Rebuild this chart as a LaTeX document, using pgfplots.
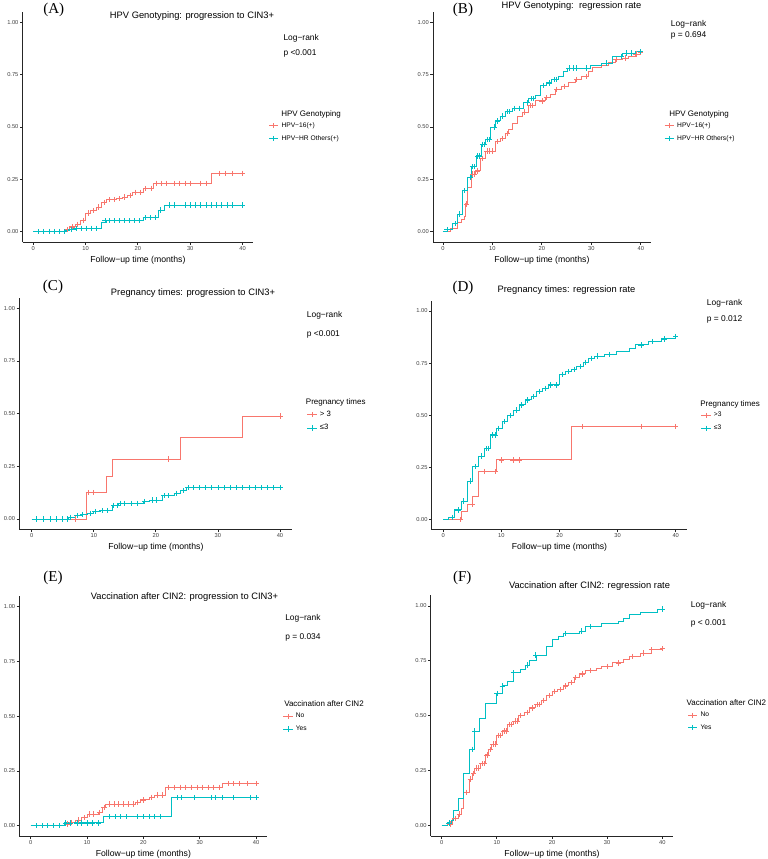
\documentclass[border=0pt]{standalone}
\usepackage{pgfplots}
\pgfplotsset{compat=1.18}
\usepackage{fontspec}
\setmainfont{Liberation Sans}
\newfontfamily\serifl{Liberation Serif}
\definecolor{kmr}{HTML}{F8766D}
\definecolor{kmc}{HTML}{00BFC4}
\def\pu{0.75pt}
\pgfplotsset{
  km/.style={
    scale only axis, anchor=south west,
    xmin=-2, xmax=42, ymin=-0.05, ymax=1.05,
    axis lines=left,
    axis line style={-, line width=0.75pt, black!85},
    xtick={0,10,20,30,40}, xticklabels={0,10,20,30,40},
    ytick={0,0.25,0.5,0.75,1}, yticklabels={0.00,0.25,0.50,0.75,1.00},
    tick align=outside, major tick length=2pt,
    tick style={black!85, line width=0.6pt},
    tick label style={font=\fontsize{4.3}{5}\selectfont, text=black!75, inner sep=1pt},
    xlabel={Follow−up time (months)},
    xlabel style={font=\fontsize{6.5}{7}\selectfont, at={(axis description cs:0.5,0)}, anchor=mid, yshift=-12.5pt},
    legend style={draw=none, fill=none, inner sep=0pt, font=\fontsize{5}{6}\selectfont, cells={anchor=west}, row sep=0.5pt, anchor=west},
    legend image code/.code={\draw[mark repeat=2,mark phase=2,#1] plot coordinates {(0pt,0pt) (3.5pt,0pt) (7pt,0pt)};},
  },
  curve/.style={const plot, line width=0.7pt, mark=none, forget plot},
  cens/.style={only marks, mark=+, mark size=2pt, line width=0.5pt, forget plot},
  keyr/.style={kmr, line width=0.7pt, mark=+, mark size=2pt},
  keyc/.style={kmc, line width=0.7pt, mark=+, mark size=2pt},
}
\begin{document}
\begin{tikzpicture}
\path[use as bounding box] (0,0) rectangle (767*\pu,-859*\pu);
% ---------- A ----------
\begin{axis}[km, at={(17.03pt,-181.5pt)}, width=172.73pt, height=172.5pt,
  legend style={at={(axis description cs:1.0664,0.4774)}}]
\addplot[curve, kmr] coordinates {(0,0)(6,0.01)(7,0.022)(8,0.035)(9,0.054)(10,0.088)(11,0.10)(12,0.117)(13,0.14)(14,0.152)(16,0.158)(17,0.165)(18,0.172)(19,0.188)(21,0.206)(23,0.231)(34,0.279)(40,0.279)};
\addplot[cens, kmr] coordinates {(6.5,0.01)(7.5,0.022)(8.5,0.035)(9.5,0.054)(10.5,0.088)(11.5,0.10)(12.5,0.117)(13.5,0.14)(14.5,0.152)(15.5,0.152)(16.5,0.158)(17.5,0.165)(18.5,0.172)(19.5,0.188)(20.5,0.188)(21.5,0.206)(22.5,0.206)(23.5,0.231)(24.5,0.231)(25.5,0.231)(27,0.231)(28,0.231)(29,0.231)(30,0.231)(32,0.231)(33,0.231)(35.5,0.279)(36.8,0.279)(38,0.279)(40,0.279)};
\addplot[curve, kmc] coordinates {(0,0)(6,0.005)(7,0.01)(8,0.015)(13,0.045)(14,0.052)(21,0.066)(24,0.103)(25,0.127)(40,0.127)};
\addplot[cens, kmc] coordinates {(1,0)(2,0)(3,0)(4,0)(5,0)(5.9,0)(7.2,0.01)(8.2,0.015)(9.2,0.015)(10.2,0.015)(11.1,0.015)(12.1,0.015)(13.7,0.052)(14.6,0.052)(15.6,0.052)(16.5,0.052)(17.5,0.052)(18.4,0.052)(19.4,0.052)(20.3,0.052)(21.4,0.066)(22.3,0.066)(23.3,0.066)(24.3,0.103)(26,0.127)(27,0.127)(29,0.127)(30,0.127)(31,0.127)(32,0.127)(33,0.127)(34,0.127)(35,0.127)(36,0.127)(37,0.127)(38,0.127)(40,0.127)};
\addlegendimage{keyr}\addlegendentry{HPV−16(+)}
\addlegendimage{keyc}\addlegendentry{HPV−HR Others(+)}
\end{axis}
% ---------- B ----------
\begin{axis}[km, at={(324.75pt,-181.5pt)}, width=163.28pt, height=172.5pt,
  legend style={at={(axis description cs:1.0611,0.4774)}}]
\addplot[curve, kmr] coordinates {(0,0)(1.6,0.013)(2.9,0.044)(3.8,0.06)(4.3,0.07)(4.6,0.132)(5,0.21)(5.8,0.275)(6.6,0.29)(7.6,0.35)(8.6,0.385)(10.6,0.43)(11.6,0.445)(12.6,0.468)(13.3,0.49)(14.1,0.515)(15,0.548)(16,0.571)(17.3,0.602)(18.7,0.625)(20.7,0.64)(21.7,0.657)(22.7,0.68)(24,0.695)(25.4,0.711)(26.7,0.727)(28,0.743)(29.4,0.767)(30.3,0.785)(32.1,0.795)(33.4,0.81)(34.8,0.822)(36.2,0.83)(37.5,0.838)(38.9,0.849)(40,0.855)};
\addplot[cens, kmr] coordinates {(4.8,0.132)(6,0.275)(6.3,0.275)(7,0.29)(7.9,0.35)(8.9,0.385)(9.3,0.385)(10,0.385)(11,0.43)(12,0.445)(13,0.468)(16.5,0.571)(17.6,0.602)(18,0.602)(20,0.625)(21,0.64)(23,0.68)(24.5,0.695)(27,0.727)(29,0.743)(35,0.822)(36.8,0.83)(39,0.849)(40,0.855)};
\addplot[curve, kmc] coordinates {(0,0)(1,0.01)(2,0.037)(3,0.084)(3.9,0.195)(5,0.259)(5.8,0.31)(6.7,0.362)(7.7,0.417)(8.7,0.44)(9.7,0.50)(10.7,0.529)(11.7,0.552)(12.7,0.573)(14,0.59)(16.3,0.616)(17.3,0.635)(18.7,0.65)(19.7,0.70)(21,0.711)(22,0.727)(23.4,0.743)(24.4,0.767)(25.1,0.782)(29.8,0.795)(32.1,0.806)(34.2,0.838)(36.2,0.854)(38.9,0.86)(40,0.86)};
\addplot[cens, kmc] coordinates {(0.8,0.01)(2.5,0.037)(3.4,0.084)(4.4,0.195)(5.5,0.259)(6,0.31)(6.3,0.31)(7,0.362)(7.4,0.362)(8,0.417)(8.4,0.417)(9,0.44)(9.4,0.44)(10.3,0.50)(11,0.529)(12,0.552)(13,0.573)(13.5,0.573)(14.5,0.59)(15.5,0.59)(17,0.616)(17.8,0.635)(18.2,0.635)(20.2,0.70)(21.5,0.711)(22.5,0.727)(23,0.727)(25.5,0.782)(26.3,0.782)(27,0.782)(29,0.782)(33,0.806)(36,0.838)(37,0.854)(38,0.854)(40,0.86)};
\addlegendimage{keyr}\addlegendentry{HPV−16(+)}
\addlegendimage{keyc}\addlegendentry{HPV−HR Others(+)}
\end{axis}
% ---------- C ----------
\begin{axis}[km, at={(14.48pt,-397.13pt)}, width=204.8pt, height=173.78pt,
  legend style={at={(axis description cs:1.0524,0.4668)}, font=\fontsize{5.8}{6.5}\selectfont}]
\addplot[curve, kmr] coordinates {(0,0)(8.9,0.125)(12,0.204)(13,0.284)(24,0.386)(34,0.489)(40,0.489)};
\addplot[cens, kmr] coordinates {(7,0)(9.1,0.125)(10,0.125)(22,0.284)(40,0.489)};
\addplot[curve, kmc] coordinates {(0,0)(6,0.008)(7,0.016)(8,0.021)(9,0.027)(10,0.035)(11,0.04)(13,0.064)(14,0.075)(18,0.083)(19,0.09)(21,0.11)(23,0.122)(24,0.135)(25,0.148)(40,0.148)};
\addplot[cens, kmc] coordinates {(0.8,0)(1.9,0)(2.95,0)(4,0)(5,0)(5.8,0)(6.3,0.008)(7.3,0.016)(8.2,0.021)(9.5,0.027)(10.2,0.035)(11.3,0.04)(12.2,0.04)(13.2,0.064)(13.8,0.064)(14.3,0.075)(15,0.075)(16,0.075)(17,0.075)(18.2,0.083)(19.5,0.09)(20,0.09)(21.3,0.11)(22,0.11)(23.3,0.122)(24.5,0.135)(25.2,0.148)(26,0.148)(27,0.148)(28,0.148)(29,0.148)(30,0.148)(31,0.148)(32,0.148)(33,0.148)(34,0.148)(35,0.148)(36,0.148)(37,0.148)(38,0.148)(39,0.148)(40,0.148)};
\addlegendimage{keyr}\addlegendentry{> 3}
\addlegendimage{keyc}\addlegendentry{≤3}
\end{axis}
% ---------- D ----------
\begin{axis}[km, at={(323.78pt,-397.28pt)}, width=191.7pt, height=171.83pt,
  legend style={at={(axis description cs:1.0524,0.4708)}}]
\addplot[curve, kmr] coordinates {(0,0)(3.1,0.036)(4.1,0.072)(5.06,0.112)(6.1,0.229)(9.07,0.285)(22,0.445)(40,0.445)};
\addplot[cens, kmr] coordinates {(3,0)(5,0.072)(7.1,0.229)(9,0.229)(10,0.285)(12,0.285)(13,0.285)(24,0.445)(34,0.445)(40,0.445)};
\addplot[curve, kmc] coordinates {(0,0)(0.9,0.008)(2,0.045)(3.1,0.088)(4.1,0.184)(5.06,0.253)(6.1,0.304)(7.06,0.34)(8.1,0.405)(9.07,0.437)(10.1,0.469)(11.1,0.497)(12.1,0.524)(13.1,0.549)(14.1,0.573)(15.1,0.589)(16.1,0.613)(17.1,0.629)(18.1,0.645)(20,0.696)(21,0.709)(22,0.72)(23,0.733)(24.2,0.754)(24.9,0.773)(26.1,0.784)(27.8,0.792)(29.8,0.808)(32.1,0.821)(33,0.837)(35.3,0.853)(37.6,0.866)(39.9,0.877)(40,0.877)};
\addplot[cens, kmc] coordinates {(1.5,0.008)(2.5,0.045)(3.5,0.088)(4.6,0.184)(5.5,0.253)(6.5,0.304)(7.4,0.34)(7.8,0.34)(8.5,0.405)(9,0.405)(9.5,0.437)(10.5,0.469)(11.5,0.497)(12.5,0.524)(13.5,0.549)(14.5,0.573)(15.5,0.589)(16.5,0.613)(17.5,0.629)(18.5,0.645)(19.5,0.645)(20.5,0.696)(21.5,0.709)(22.5,0.72)(23.5,0.733)(24.5,0.754)(25.5,0.773)(26.5,0.784)(28.5,0.792)(34,0.837)(36,0.853)(38,0.866)(40,0.877)};
\addlegendimage{keyr}\addlegendentry{>3}
\addlegendimage{keyc}\addlegendentry{≤3}
\end{axis}
% ---------- E ----------
\begin{axis}[km, at={(14.55pt,-627.53pt)}, width=185.93pt, height=180.75pt,
  legend style={at={(axis description cs:1.0621,0.4724)}}]
\addplot[curve, kmr] coordinates {(0,0)(6,0.008)(6.7,0.015)(8,0.026)(9,0.038)(10,0.053)(12,0.06)(12.7,0.084)(13.3,0.099)(18.6,0.107)(19.5,0.118)(21,0.13)(22,0.14)(24,0.176)(34,0.193)(40,0.193)};
\addplot[cens, kmr] coordinates {(6.5,0.008)(7.3,0.015)(8.5,0.026)(9.5,0.038)(10.5,0.053)(11.2,0.053)(12.2,0.06)(13,0.084)(14,0.099)(14.8,0.099)(15.5,0.099)(16.5,0.099)(17.3,0.099)(18.2,0.099)(19,0.107)(20,0.118)(21.5,0.13)(22.5,0.14)(23.3,0.14)(24.5,0.176)(25.5,0.176)(26.5,0.176)(27.5,0.176)(28.5,0.176)(29.5,0.176)(30.5,0.176)(31.5,0.176)(32.5,0.176)(33.5,0.176)(35,0.193)(36,0.193)(37,0.193)(38.5,0.193)(40,0.193)};
\addplot[curve, kmc] coordinates {(0,0)(6,0.013)(13,0.041)(25,0.128)(40,0.128)};
\addplot[cens, kmc] coordinates {(1,0)(2,0)(3,0)(4,0)(5,0)(6.2,0.013)(7.1,0.013)(8.2,0.013)(9,0.013)(10,0.013)(11,0.013)(12,0.013)(14,0.041)(15,0.041)(16,0.041)(17,0.041)(19,0.041)(20,0.041)(21,0.041)(22,0.041)(23,0.041)(26,0.128)(26.8,0.128)(29,0.128)(32,0.128)(32.8,0.128)(34,0.128)(36,0.128)(38.9,0.128)(40,0.128)};
\addlegendimage{keyr}\addlegendentry{No}
\addlegendimage{keyc}\addlegendentry{Yes}
\end{axis}
% ---------- F ----------
\begin{axis}[km, at={(323.03pt,-627pt)}, width=181.95pt, height=180.75pt,
  legend style={at={(axis description cs:1.0577,0.4751)}}]
\addplot[curve, kmr] coordinates {(0,0)(1,0.005)(2,0.03)(3,0.05)(3.5,0.075)(4,0.15)(5,0.21)(5.5,0.235)(6,0.26)(7,0.28)(8,0.32)(8.5,0.345)(9,0.37)(10,0.41)(11,0.43)(12,0.46)(13,0.475)(14,0.50)(15,0.515)(16,0.535)(17,0.55)(18,0.57)(19,0.59)(20,0.61)(21,0.62)(22,0.635)(23,0.65)(24,0.675)(25,0.69)(26,0.705)(28,0.715)(29,0.725)(31,0.74)(33,0.755)(34,0.77)(36,0.785)(38,0.80)(40,0.805)};
\addplot[cens, kmr] coordinates {(1.5,0.005)(2.5,0.03)(3.2,0.05)(4.5,0.15)(5.2,0.21)(5.8,0.235)(6.3,0.26)(6.7,0.26)(7.3,0.28)(7.7,0.28)(8.2,0.32)(8.8,0.345)(9.3,0.37)(9.7,0.37)(10.3,0.41)(10.7,0.41)(11.3,0.43)(11.7,0.43)(12.3,0.46)(12.7,0.46)(13.3,0.475)(13.7,0.475)(14.3,0.50)(15.5,0.515)(16.5,0.535)(17.3,0.55)(17.7,0.55)(18.5,0.57)(19.5,0.59)(20.5,0.61)(21.5,0.62)(22.5,0.635)(23.5,0.65)(24.3,0.675)(25.5,0.69)(27,0.705)(30,0.725)(32,0.74)(34.5,0.77)(36.5,0.785)(38,0.80)(40,0.805)};
\addplot[curve, kmc] coordinates {(0,0)(1,0.01)(1.8,0.023)(2.1,0.065)(3,0.122)(3.9,0.236)(5,0.346)(5.9,0.429)(6.9,0.487)(7.85,0.553)(10,0.60)(11,0.635)(12,0.655)(13,0.695)(14.2,0.71)(15.1,0.73)(16,0.753)(17.1,0.776)(19,0.814)(20.1,0.845)(21.1,0.86)(22,0.873)(25,0.885)(26,0.905)(29,0.918)(32,0.93)(32.9,0.944)(34,0.96)(36.1,0.972)(39.2,0.986)(40,0.986)};
\addplot[cens, kmc] coordinates {(1.3,0.01)(5.5,0.346)(6,0.429)(10,0.60)(11,0.635)(13,0.695)(15.5,0.73)(17,0.776)(22.5,0.873)(25.3,0.885)(27,0.905)(40,0.986)};
\addlegendimage{keyr}\addlegendentry{No}
\addlegendimage{keyc}\addlegendentry{Yes}
\end{axis}
% ---------- texts ----------
\begin{scope}[every node/.style={inner sep=0pt}]
\foreach \t/\x/\y in {(A)/53.8/10,(B)/463/10,(C)/53/287,(D)/463/288,(E)/53/578,(F)/462.3/578}
  \node[anchor=mid, font=\serifl\fontsize{11.3}{12}\selectfont] at (\x*\pu,-\y*\pu) {\t};
\tikzset{ttl/.style={anchor=mid, font=\fontsize{7}{8}\selectfont}}
\node[ttl] at (192*\pu,-15.3*\pu) {HPV Genotyping: progression to CIN3+};
\node[ttl] at (571.5*\pu,-5*\pu) {HPV Genotyping:\ \ regression rate};
\node[ttl] at (193*\pu,-292*\pu) {Pregnancy times: progression to CIN3+};
\node[ttl] at (566.5*\pu,-289*\pu) {Pregnancy times: regression rate};
\node[ttl] at (184.5*\pu,-596*\pu) {Vaccination after CIN2: progression to CIN3+};
\node[ttl] at (589.5*\pu,-585*\pu) {Vaccination after CIN2: regression rate};
\tikzset{lr/.style={anchor=mid west, font=\fontsize{6.3}{7}\selectfont}}
\node[lr] at (283.3*\pu,-36.7*\pu) {Log−rank};
\node[lr] at (283.3*\pu,-51.7*\pu) {p <0.001};
\node[lr] at (670.7*\pu,-22.7*\pu) {Log−rank};
\node[lr] at (670.7*\pu,-34.3*\pu) {p = 0.694};
\node[lr] at (306.7*\pu,-314*\pu) {Log−rank};
\node[lr] at (306.7*\pu,-332.7*\pu) {p <0.001};
\node[lr] at (706.7*\pu,-302.3*\pu) {Log−rank};
\node[lr] at (706.7*\pu,-317.7*\pu) {p = 0.012};
\node[lr] at (285*\pu,-616.7*\pu) {Log−rank};
\node[lr] at (285*\pu,-636*\pu) {p = 0.034};
\node[lr] at (690.7*\pu,-604*\pu) {Log−rank};
\node[lr] at (690.7*\pu,-621.7*\pu) {p < 0.001};
\tikzset{lt/.style={anchor=mid west, font=\fontsize{6}{7}\selectfont}}
\node[lt] at (281*\pu,-113.3*\pu) {HPV Genotyping};
\node[lt] at (669*\pu,-113.3*\pu) {HPV Genotyping};
\node[lt] at (305.7*\pu,-401*\pu) {Pregnancy times};
\node[lt] at (700*\pu,-402.7*\pu) {Pregnancy times};
\node[lt] at (284*\pu,-703.3*\pu) {Vaccination after CIN2};
\node[lt] at (686.3*\pu,-702.3*\pu) {Vaccination after CIN2};
\end{scope}
\end{tikzpicture}
\end{document}
